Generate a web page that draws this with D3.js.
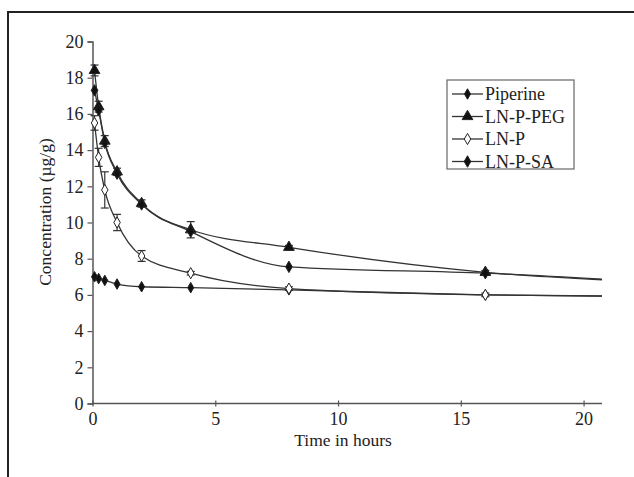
<!DOCTYPE html>
<html>
<head>
<meta charset="utf-8">
<script src="https://cdn.jsdelivr.net/npm/d3@7"></script>
<style>
  body { margin: 0; background: #fff; }
  text { font-family: "Liberation Serif", "DejaVu Serif", serif; fill: #222; }
</style>
</head>
<body>
<div class="canva"></div>
<script>
// data
const times = [0.083, 0.25, 0.5, 1, 2, 4, 8, 16, 24];
const piperine = [7.0, 6.9, 6.8, 6.6, 6.45, 6.4, 6.28, 6.0, 5.88];
const lnpPeg   = [18.4, 16.4, 14.5, 12.8, 11.05, 9.6, 8.63, 7.25, 6.65];
const lnp      = [15.5, 13.6, 11.8, 10.0, 8.15, 7.2, 6.35, 6.0, 5.9];
const lnpSa    = [17.3, 16.2, 14.4, 12.7, 11.0, 9.5, 7.55, 7.2, 6.62];
const pegErr   = [0.3, 0.3, 0.3, 0.2, 0.2, 0.45, 0.1, 0.1, 0];
const lnpErr   = [0.4, 0.5, 1.0, 0.45, 0.3, 0.1, 0.1, 0.1, 0];
const seriesNames = ["Piperine", "LN-P-PEG", "LN-P", "LN-P-SA"];
const xTicks = [0, 5, 10, 15, 20];
const yTicks = [0, 2, 4, 6, 8, 10, 12, 14, 16, 18, 20];

const W = 634, H = 477;
const svg = d3.select(".canva").append("svg")
    .attr("width", W)
    .attr("height", H);

// outer frame (cut off at right and bottom)
svg.append("rect")
    .attr("x", 8).attr("y", 12)
    .attr("width", W).attr("height", H)
    .attr("fill", "none")
    .attr("stroke", "#222")
    .attr("stroke-width", 2);

const x = d3.scaleLinear().domain([0, 20.75]).range([92.5, 602]);
const y = d3.scaleLinear().domain([0, 20]).range([403.5, 41.5]);

svg.append("clipPath").attr("id", "plot")
   .append("rect")
   .attr("x", 85).attr("y", 30)
   .attr("width", 602 - 85).attr("height", 380);

// axes
const xAxis = d3.axisBottom(x).tickValues(xTicks).tickSize(3).tickPadding(6);
const yAxis = d3.axisLeft(y).tickValues(yTicks).tickSize(5).tickPadding(4);

const gx = svg.append("g")
    .attr("transform", `translate(0, ${y(0)})`)
    .call(xAxis);
const gy = svg.append("g")
    .attr("transform", `translate(${x(0)}, 0)`)
    .call(yAxis);

[gx, gy].forEach(g => {
  g.select(".domain").attr("stroke", "#555").attr("stroke-width", 1.5);
  g.selectAll(".tick line").attr("stroke", "#555").attr("stroke-width", 1.2);
  g.selectAll(".tick text")
   .style("font-family", "'Liberation Serif', serif")
   .style("font-size", "18px")
   .attr("fill", "#222");
});
gx.select(".domain").attr("d", `M${x(0)},0H602`);
gx.selectAll(".tick line").attr("y1", -3);

// axis titles
svg.append("text")
    .attr("x", 343).attr("y", 446)
    .attr("text-anchor", "middle")
    .style("font-size", "17.5px")
    .text("Time in hours");

svg.append("text")
    .attr("transform", "translate(51, 212) rotate(-90)")
    .attr("text-anchor", "middle")
    .style("font-size", "17.5px")
    .text("Concentration (µg/g)");

// lines
const plot = svg.append("g").attr("clip-path", "url(#plot)");
const line = d3.line()
    .x((d, i) => x(times[i]))
    .y(d => y(d))
    .curve(d3.curveMonotoneX);

const allSeries = [piperine, lnpPeg, lnp, lnpSa];
allSeries.forEach(s => {
  plot.append("path")
      .datum(s)
      .attr("d", line)
      .attr("fill", "none")
      .attr("stroke", "#333")
      .attr("stroke-width", 1.3);
});

// error bars
function errorBars(vals, errs) {
  vals.forEach((v, i) => {
    if (!errs[i] || times[i] > 20.75) return;
    const cx = x(times[i]);
    const g = plot.append("g").attr("stroke", "#333").attr("stroke-width", 1.2);
    g.append("line").attr("x1", cx).attr("x2", cx)
     .attr("y1", y(v - errs[i])).attr("y2", y(v + errs[i]));
    g.append("line").attr("x1", cx - 4).attr("x2", cx + 4)
     .attr("y1", y(v - errs[i])).attr("y2", y(v - errs[i]));
    g.append("line").attr("x1", cx - 4).attr("x2", cx + 4)
     .attr("y1", y(v + errs[i])).attr("y2", y(v + errs[i]));
  });
}
errorBars(lnpPeg, pegErr);
errorBars(lnp, lnpErr);

// markers
const markers = [
  {type: d3.symbolDiamond, size: 32, fill: "#111"},
  {type: d3.symbolTriangle, size: 50, fill: "#111"},
  {type: d3.symbolDiamond, size: 36, fill: "#fff"},
  {type: d3.symbolDiamond, size: 38, fill: "#111"}
];

allSeries.forEach((s, k) => {
  plot.selectAll(null)
      .data(s)
      .enter()
      .append("path")
      .attr("d", d3.symbol().type(markers[k].type).size(markers[k].size))
      .attr("transform", (d, i) => `translate(${x(times[i])}, ${y(d)})`)
      .attr("fill", markers[k].fill)
      .attr("stroke", "#222")
      .attr("stroke-width", 1);
});

// legend
const legend = svg.append("g");
legend.append("rect")
    .attr("x", 447).attr("y", 80)
    .attr("width", 127).attr("height", 89)
    .attr("fill", "#fff")
    .attr("stroke", "#666")
    .attr("stroke-width", 1.2);

seriesNames.forEach((name, k) => {
  const ly = 94 + k * 22.5;
  legend.append("line")
      .attr("x1", 452).attr("x2", 483)
      .attr("y1", ly).attr("y2", ly)
      .attr("stroke", "#333").attr("stroke-width", 1.3);
  legend.append("path")
      .attr("d", d3.symbol().type(markers[k].type).size(markers[k].size))
      .attr("transform", `translate(467.5, ${ly})`)
      .attr("fill", markers[k].fill)
      .attr("stroke", "#222");
  legend.append("text")
      .attr("x", 485).attr("y", ly)
      .attr("dy", "0.35em")
      .style("font-size", "18px")
      .text(name);
});
</script>
</body>
</html>
